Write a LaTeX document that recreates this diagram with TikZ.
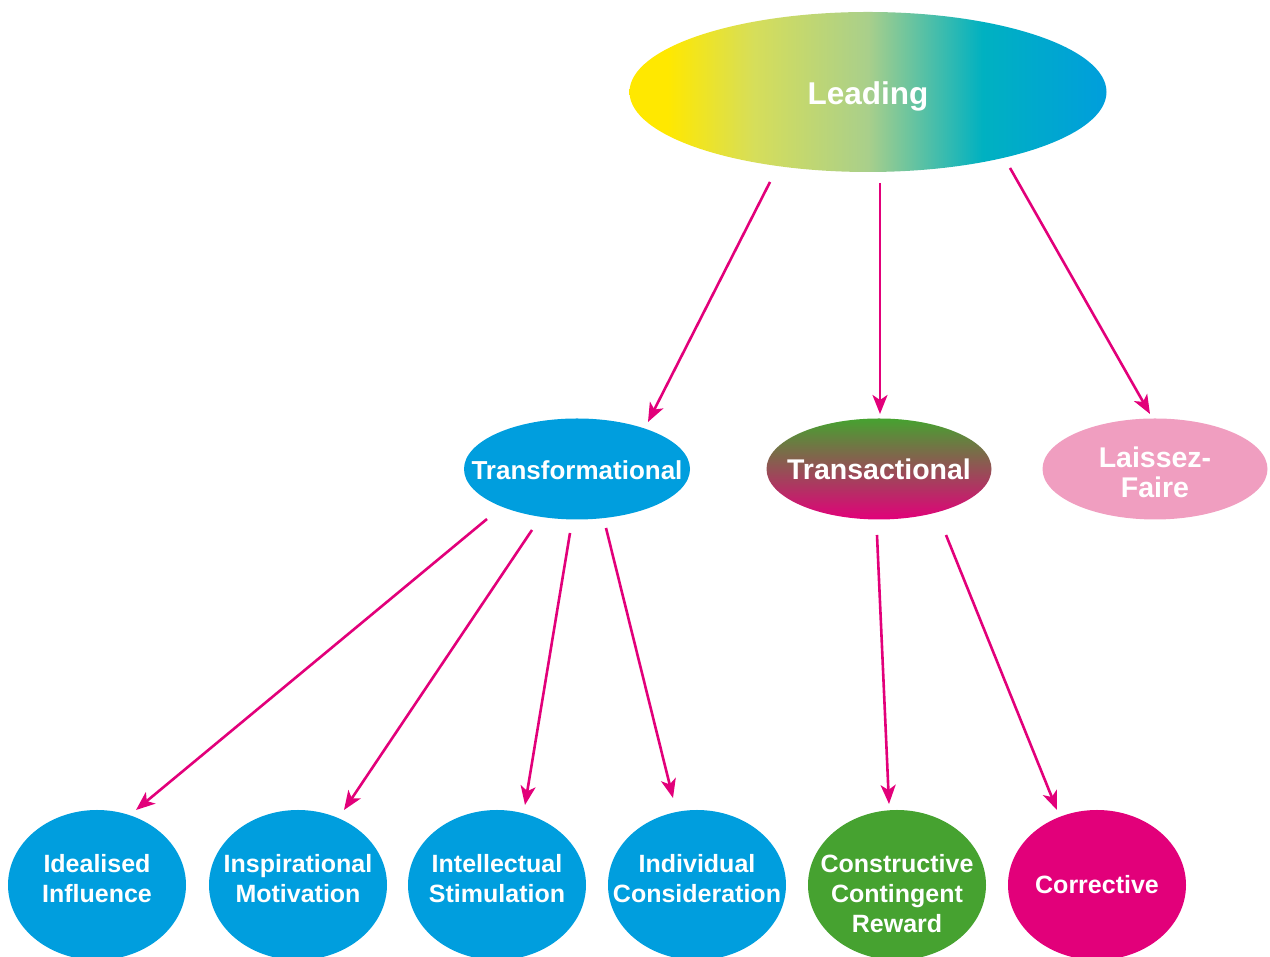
\documentclass[tikz,border=0pt]{standalone}
\usepackage{fontspec}
\setmainfont{Liberation Sans}
\usetikzlibrary{shapes.geometric,arrows.meta,calc}
\definecolor{cblue}{RGB}{0,158,222}
\definecolor{cgreen}{RGB}{70,162,48}
\definecolor{cmag}{RGB}{226,0,122}
\definecolor{cpink}{RGB}{240,158,192}
\definecolor{tmid}{RGB}{176,128,116}
\definecolor{ly}{RGB}{255,232,0}
\definecolor{lyg}{RGB}{214,222,90}
\definecolor{lg}{RGB}{169,207,139}
\definecolor{lt}{RGB}{0,177,193}
\definecolor{lb}{RGB}{0,158,220}
\pgfdeclarehorizontalshading{leadshade}{100bp}{color(0bp)=(ly); color(29bp)=(ly); color(38bp)=(lyg); color(50bp)=(lg); color(62bp)=(lt); color(75bp)=(lb); color(100bp)=(lb)}
\newcommand{\zw}[2][0pt]{\makebox[0pt][c]{\raisebox{\dimexpr#1-0.25em\relax}[0pt][0pt]{\begin{tabular}{@{}c@{}}#2\end{tabular}}}}
\begin{document}
\begin{tikzpicture}[x=1pt,y=1pt,
  ell/.style={ellipse, inner sep=0pt, text=white, align=center},
  midell/.style={ell, minimum width=225, minimum height=101, font=\fontsize{28.5}{30}\selectfont\bfseries},
  bub/.style={ell, minimum width=178, minimum height=150, font=\fontsize{25}{30}\selectfont\bfseries},
  arr/.style={draw=cmag, line width=2.6pt, -{Stealth[length=19pt,width=15pt,inset=5pt]}}]
\useasboundingbox (0,0) rectangle (1270,957);
\node[ell, shade, shading=leadshade, minimum width=477, minimum height=160, font=\fontsize{31.5}{36}\selectfont\bfseries] (lead) at (868,865) {\zw[-4pt]{Leading}};
\node[midell, fill=cblue, minimum width=226, font=\fontsize{26}{30}\selectfont\bfseries] (tf) at (577,488) {\zw[-4pt]{Transformational}};
\node[midell, top color=cgreen, middle color=tmid, bottom color=cmag] (tc) at (879,488) {\zw[-4pt]{Transactional}};
\node[midell, fill=cpink] (lf) at (1155,488) {\zw[-7pt]{Laissez-\\Faire}};
\node[bub, fill=cblue] (c1) at (97,72) {\zw[4pt]{Idealised\\Influence}};
\node[bub, fill=cblue] (c2) at (298,72) {\zw[4pt]{Inspirational\\Motivation}};
\node[bub, fill=cblue] (c3) at (497,72) {\zw[4pt]{Intellectual\\Stimulation}};
\node[bub, fill=cblue] (c4) at (697,72) {\zw[4pt]{Individual\\Consideration}};
\node[bub, fill=cgreen] (c5) at (897,72) {\zw[-11pt]{Constructive\\Contingent\\Reward}};
\node[bub, fill=cmag] (c6) at (1097,72) {\zw[-2pt]{Corrective}};
\draw[arr] ($(lead)+(-98,-90)$) -- ($(tf)+(71,47)$);
\draw[arr] ($(lead)+(12,-91)$) -- ($(tc)+(1,55)$);
\draw[arr] ($(lead)+(142,-76)$) -- ($(lf)+(-5,55)$);
\draw[arr] ($(tf)+(-90,-50)$) -- ($(c1)+(39,75)$);
\draw[arr] ($(tf)+(-45,-61)$) -- ($(c2)+(46,75)$);
\draw[arr] ($(tf)+(-7,-64)$) -- ($(c3)+(28,80)$);
\draw[arr] ($(tf)+(29,-59)$) -- ($(c4)+(-24,87)$);
\draw[arr] ($(tc)+(-2,-66)$) -- ($(c5)+(-8,81)$);
\draw[arr] ($(tc)+(67,-66)$) -- ($(c6)+(-40,75)$);
\end{tikzpicture}
\end{document}
